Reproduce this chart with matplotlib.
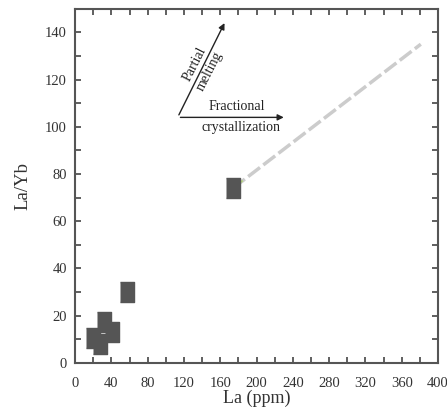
import matplotlib.pyplot as plt
from matplotlib.ticker import MultipleLocator

plt.rcParams['font.family'] = ['Liberation Serif', 'DejaVu Serif']

# sample points
la = [20, 27.5, 31.5, 40.5, 57, 174]
la_yb = [10.4, 8.1, 17.4, 12.9, 29.9, 74]

# trend line (La, La/Yb)
trend_x = [174, 381]
trend_y = [74, 135]

# arrows
arrow_origin = (113, 104)
melt_tip = (166, 145)
frac_tip = (233, 104)

fig = plt.figure(figsize=(4.47, 4.19), dpi=100)
ax = fig.add_axes([0.168, 0.134, 0.812, 0.845])

ax.plot(trend_x, trend_y, color='#cccccc', lw=2.5, dashes=(4.3, 1.2), zorder=1)
ax.plot([174, 184], [74, 77], color='#b5d87a', lw=1.2, zorder=2)

rect = [(-0.375, -0.5), (0.375, -0.5), (0.375, 0.5), (-0.375, 0.5)]
ax.scatter(la, la_yb, marker=rect, s=207, color='#555555', zorder=3, clip_on=False)

ax.annotate('', xy=melt_tip, xytext=arrow_origin,
            arrowprops=dict(arrowstyle='-|>', color='#222222', lw=1, mutation_scale=9))
ax.annotate('', xy=frac_tip, xytext=arrow_origin,
            arrowprops=dict(arrowstyle='-|>', color='#222222', lw=1, mutation_scale=9))
ax.text(140, 125, 'Partial\nmelting', rotation=63, ha='center', va='center',
        fontsize=10, linespacing=1.35, color='#222222')
ax.text(178, 108.5, 'Fractional', ha='center', va='center', fontsize=10, color='#222222')
ax.text(183, 99.5, 'crystallization', ha='center', va='center', fontsize=10, color='#222222')

ax.set_xlim(0, 400)
ax.set_ylim(0, 150)
ax.xaxis.set_major_locator(MultipleLocator(40))
ax.xaxis.set_minor_locator(MultipleLocator(20))
ax.yaxis.set_major_locator(MultipleLocator(20))
ax.yaxis.set_minor_locator(MultipleLocator(10))
ax.tick_params(which='both', direction='in', top=True, right=True,
               color='#444444', width=1.2, labelsize=10.5, labelcolor='#333333')
ax.tick_params(which='both', length=4)
ax.tick_params(axis='x', pad=10)
ax.tick_params(axis='y', pad=6)
for s in ax.spines.values():
    s.set_color('#555555')
    s.set_linewidth(1.5)

ax.set_xlabel('La (ppm)', fontsize=13, color='#333333', labelpad=0)
ax.set_ylabel('La/Yb', fontsize=13.5, color='#333333', labelpad=10)

fig.savefig('out.png', dpi=100)
